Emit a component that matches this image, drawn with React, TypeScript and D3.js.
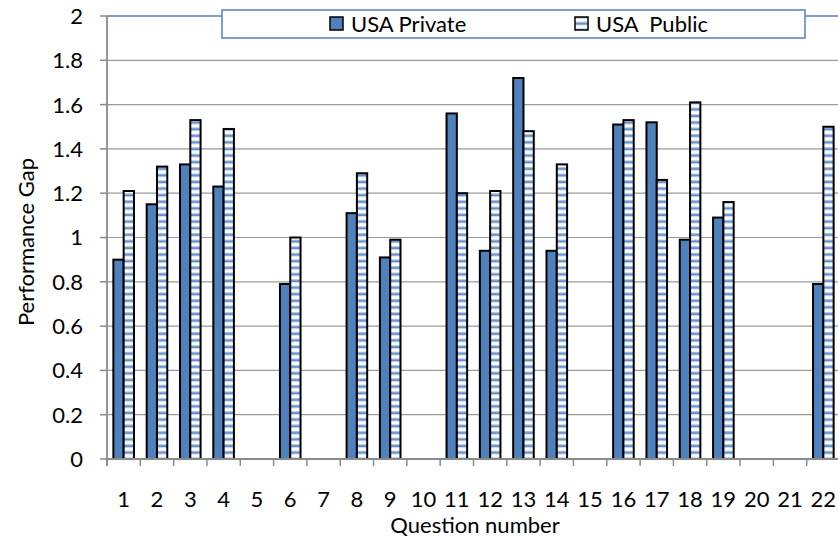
import React from "react";
import * as d3 from "d3";

const categories = ["1","2","3","4","5","6","7","8","9","10","11","12","13","14","15","16","17","18","19","20","21","22"];
const privateValues: (number | null)[] = [0.9,1.15,1.33,1.23,null,0.79,null,1.11,0.91,null,1.56,0.94,1.72,0.94,null,1.51,1.52,0.99,1.09,null,null,0.79];
const publicValues: (number | null)[] = [1.21,1.32,1.53,1.49,null,1.0,null,1.29,0.99,null,1.2,1.21,1.48,1.33,null,1.53,1.26,1.61,1.16,null,null,1.5];
const yTicks = [0,0.2,0.4,0.6,0.8,1,1.2,1.4,1.6,1.8,2];
const seriesNames = ["USA Private", "USA  Public"];

const W = 838, H = 537;
const left = 107, right = 840, top = 16, bottom = 459;
const FONT = "Lato, 'Open Sans', sans-serif";
const FS = 22;

export default function App() {
  const x = d3.scaleBand().domain(categories).range([left, right]).paddingInner(0).paddingOuter(0);
  const y = d3.scaleLinear().domain([0, 2]).range([bottom, top]);
  const bw = 10.3;
  const blue = "#4F81BD";
  return (
    <svg width={W} height={H} style={{ position: "absolute", left: 0, top: 0, background: "#fff" }}>
      <defs>
        <pattern id="stripes" patternUnits="userSpaceOnUse" width={10} height={6.6}>
          <rect width={10} height={6.6} fill="#fff" />
          <rect y={2} width={10} height={1} fill="#A9C0E0" />
          <rect y={3} width={10} height={2} fill="#5B8AC6" />
          <rect y={5} width={10} height={0.8} fill="#C6D6EC" />
        </pattern>
      </defs>
      {yTicks.map((t) => (
        <g key={t}>
          <line x1={left} x2={W} y1={y(t)} y2={y(t)} stroke={t === 2 ? blue : "#9a9a9a"} strokeWidth={t === 2 ? 1.5 : 1.2} />
          <line x1={left - 7} x2={left} y1={y(t)} y2={y(t)} stroke="#8a8a8a" strokeWidth={1.5} />
          <text x={83} y={y(t)} dy="0.36em" textAnchor="end" fontFamily={FONT} fontSize={FS} fill="#000">{d3.format("~g")(t)}</text>
        </g>
      ))}
      {categories.map((c, i) => {
        const cx = x(c)! + x.bandwidth() / 2;
        const pv = privateValues[i];
        const uv = publicValues[i];
        return (
          <g key={c}>
            {pv != null && (
              <rect x={cx - bw} y={y(pv)} width={bw} height={y(0) - y(pv)} fill={blue} stroke="#000" strokeWidth={2} />
            )}
            {uv != null && (
              <rect x={cx} y={y(uv)} width={bw} height={y(0) - y(uv)} fill="url(#stripes)" stroke="#000" strokeWidth={2} />
            )}
            <text x={cx} y={507} textAnchor="middle" fontFamily={FONT} fontSize={FS} fill="#000">{c}</text>
          </g>
        );
      })}
      <line x1={left} x2={left} y1={top} y2={bottom + 7} stroke="#8a8a8a" strokeWidth={1.8} />
      <line x1={left} x2={W} y1={bottom} y2={bottom} stroke="#8a8a8a" strokeWidth={1.8} />
      {categories.map((c) => (
        <line key={"t" + c} x1={x(c)!} x2={x(c)!} y1={bottom} y2={bottom + 7} stroke="#8a8a8a" strokeWidth={1.5} />
      ))}
      <g>
        <rect x={222} y={10} width={583} height={28} fill="#fff" stroke={blue} strokeWidth={1.5} />
        <rect x={330} y={17} width={13} height={13} fill={blue} stroke="#000" strokeWidth={1.5} />
        <text x={351} y={32} fontFamily={FONT} fontSize={FS} fill="#000">{seriesNames[0]}</text>
        <rect x={575} y={17} width={13} height={13} fill="url(#stripes)" stroke="#000" strokeWidth={1.5} />
        <text x={596} y={32} fontFamily={FONT} fontSize={FS} fill="#000" style={{ whiteSpace: "pre" }}>{seriesNames[1]}</text>
      </g>
      <text transform={`translate(34,242) rotate(-90)`} textAnchor="middle" fontFamily={FONT} fontSize={FS} fill="#000">Performance Gap</text>
      <text x={475} y={533} textAnchor="middle" fontFamily={FONT} fontSize={FS} fill="#000">Question number</text>
    </svg>
  );
}
